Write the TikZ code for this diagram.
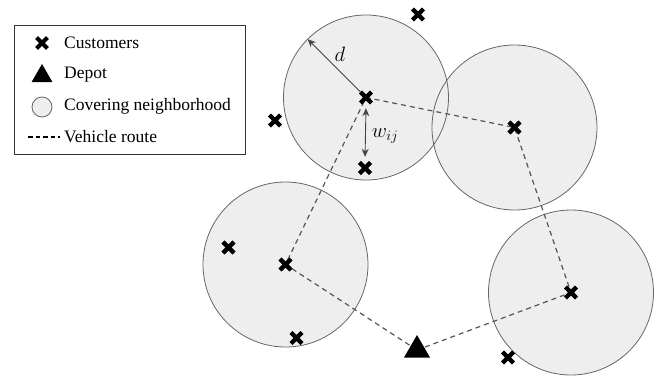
\documentclass[tikz,border=0pt]{standalone}
\usepackage{fontspec}
\setmainfont{Liberation Serif}
\usetikzlibrary{shapes.geometric,arrows.meta,calc}
\definecolor{nbfill}{HTML}{EEEEEE}
\definecolor{nbline}{HTML}{666666}
\definecolor{routecol}{HTML}{555555}
\definecolor{arrcol}{HTML}{444444}
\tikzset{
  cust/.style={rectangle,inner sep=0pt,minimum size=18pt,
    path picture={
      \draw[line width=4.2pt,black]
        ([shift={(-5.4pt,-5.4pt)}]path picture bounding box.center) -- ([shift={(5.4pt,5.4pt)}]path picture bounding box.center)
        ([shift={(-5.4pt,5.4pt)}]path picture bounding box.center) -- ([shift={(5.4pt,-5.4pt)}]path picture bounding box.center);
    }},
  depotmark/.style={regular polygon,regular polygon sides=3,fill=black,inner sep=0pt,minimum size=#1},
  nbfillst/.style={circle,fill=nbfill,minimum size=165pt,inner sep=0pt},
  nbdraw/.style={circle,draw=nbline,line width=0.8pt,minimum size=165pt,inner sep=0pt},
  route/.style={draw=routecol,dash pattern=on 5pt off 4pt,line width=1.2pt},
  dimarrow/.style={draw=arrcol,line width=0.9pt,-{Stealth[length=8pt,width=7pt]}},
  dimarrow2/.style={draw=arrcol,line width=0.9pt,{Stealth[length=8pt,width=7pt]}-{Stealth[length=8pt,width=7pt]}},
  legtext/.style={anchor=west,font=\fontsize{17.5}{19}\selectfont,inner sep=0pt},
  legbox/.style={draw=black!80,line width=0.8pt}
}
\begin{document}
\begin{tikzpicture}[x=1pt,y=-1pt]
\useasboundingbox (0,0) rectangle (659,378);
% neighborhoods fill
\foreach \p/\n in {{(366,97.5)}/n1,{(514.5,127.5)}/n2,{(285.5,264.5)}/n3,{(571,292.5)}/n4}{
  \node[nbfillst] (\n) at \p {};
}
\foreach \n in {n1,n2,n3,n4}{
  \node[nbdraw] at (\n.center) {};
}
% customers
\node[cust] (c1) at (366,97.5) {};
\node[cust] (c2) at (365,168) {};
\node[cust] (c3) at (418,14.5) {};
\node[cust] (c4) at (275,120.5) {};
\node[cust] (c5) at (514.5,127.5) {};
\node[cust] (c6) at (228.5,247.5) {};
\node[cust] (c7) at (285.5,264.5) {};
\node[cust] (c8) at (296.5,338) {};
\node[cust] (c9) at (571,292.5) {};
\node[cust] (c10) at (508,357.5) {};
% depot
\coordinate (dc) at (417,350);
% route
\draw[route] (dc) -- (c7.center) -- (c1.center) -- (c5.center) -- (c9.center) -- (dc);
\node[depotmark=30pt] (depot) at (dc) {};
% redraw crosses on top
\foreach \n in {c1,c2,c3,c4,c5,c6,c7,c8,c9,c10}{
  \node[cust] at (\n.center) {};
}
% d arrow
\coordinate (dtip) at ($(n1.center)+(225:82.5)$);
\draw[dimarrow] ($(c1.center)+(225:7)$) -- (dtip);
\node[font=\fontsize{21}{24}\selectfont] (dl) at (340,54) {$d$};
% w arrow
\draw[dimarrow2,shorten >=2pt,shorten <=1.5pt] (c1.south) -- (c2.north);
\node[font=\fontsize{21}{24}\selectfont] (wl) at (385,136) {$w_{ij}$};
% legend
\node[legbox,minimum width=231pt,minimum height=129pt,anchor=north west] (leg) at (14,25) {};
\node[cust] (lc) at (42,43) {};
\node[legtext] (lt1) at (64,43) {Customers};
\node[depotmark=24pt] (ld) at (42,76) {};
\node[legtext] (lt2) at (64,74.5) {Depot};
\node[circle,draw=nbline,fill=nbfill,line width=0.8pt,minimum size=20pt,inner sep=0pt] (ln) at (42,107) {};
\node[legtext] (lt3) at (64,106) {Covering neighborhood};
\coordinate (lr1) at (28,137);
\coordinate (lr2) at (60,137);
\draw[draw=black,dash pattern=on 4.5pt off 3pt,line width=1.2pt] (lr1) -- (lr2);
\node[legtext] (lt4) at (64,137) {Vehicle route};
\end{tikzpicture}
\end{document}
